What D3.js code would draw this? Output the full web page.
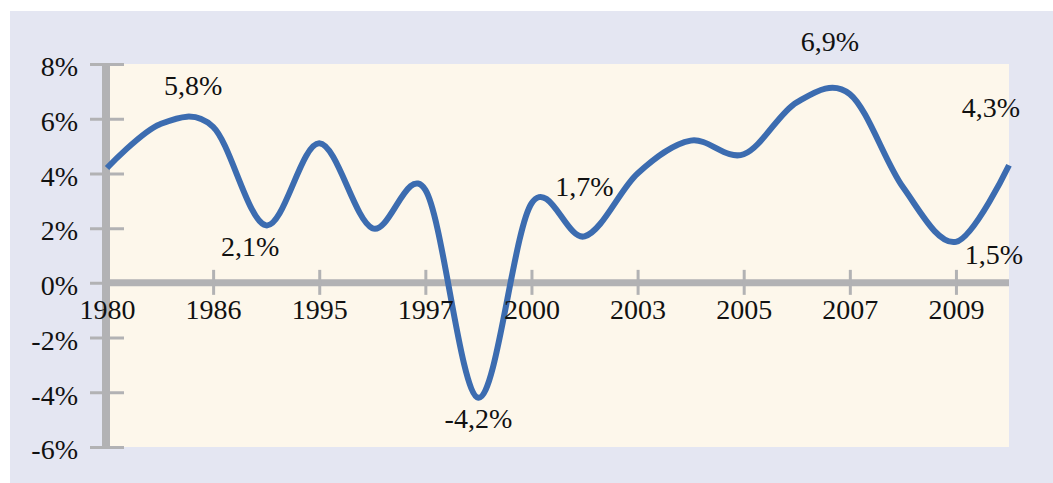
<!DOCTYPE html>
<html>
<head>
<meta charset="utf-8">
<script src="https://cdn.jsdelivr.net/npm/d3@7"></script>
<style>
  body { margin: 0; background: #ffffff; }
  svg text { font-family: "Liberation Serif", "Times New Roman", Times, serif; fill: #111; }
</style>
</head>
<body>
<svg id="chart"></svg>
<script>
/////////////// Data ///////////////
// growth values, one per half step of the category axis (18 points)
const values = [4.2, 5.8, 5.7, 2.1, 5.1, 2.0, 3.4, -4.2, 2.9, 1.7, 4.0, 5.2, 4.7, 6.6, 6.9, 3.5, 1.5, 4.3];
// category labels shown under every other point
const yearLabels = ["1980", "", "1986", "", "1995", "", "1997", "", "2000", "", "2003", "", "2005", "", "2007", "", "2009", ""];
// y tick values (percent)
const yTicks = [-6, -4, -2, 0, 2, 4, 6, 8];
// annotated points: index into values + label text
const noteIndex = [1, 3, 7, 9, 14, 17, 16];
const noteText = ["5,8%", "2,1%", "-4,2%", "1,7%", "6,9%", "4,3%", "1,5%"];

/////////////// Layout ///////////////
const width = 1053, height = 483;
const plot = { left: 107, right: 1009, top: 64, bottom: 447 };
const gray = "#b2b2b4";
const lineBlue = "#3c6cb0";
const fontStack = "'Liberation Serif', 'Times New Roman', Times, serif";
const fontSize = "28px";

const svg = d3.select("#chart")
  .attr("width", width).attr("height", height)
  .attr("font-family", fontStack);

// backgrounds
svg.append("rect").attr("x", 10).attr("y", 11).attr("width", width - 10).attr("height", height - 11).attr("fill", "#e4e6f2");
svg.append("rect")
  .attr("x", plot.left).attr("y", plot.top)
  .attr("width", plot.right - plot.left).attr("height", plot.bottom - plot.top)
  .attr("fill", "#fdf7eb");

/////////////// Scales ///////////////
const xScale = d3.scalePoint().domain(d3.range(values.length)).range([plot.left, plot.right]);
const yScale = d3.scaleLinear().domain([-6, 8]).range([plot.bottom, plot.top]);

/////////////// Y axis ///////////////
const yAxis = g => g
  .attr("transform", `translate(${plot.left - 1},0)`)
  .call(d3.axisLeft(yScale).tickValues(yTicks).tickSize(0).tickPadding(28).tickFormat(d => d + "%"))
  .attr("font-family", fontStack)
  .call(g => g.select(".domain").remove())
  .call(g => g.selectAll(".tick line").remove())
  .call(g => g.selectAll(".tick").append("line")
      .attr("x1", -16).attr("x2", 18)
      .attr("stroke", gray).attr("stroke-width", 3))
  .call(g => g.selectAll(".tick text")
      .attr("font-size", fontSize)
      .attr("dy", "0.42em")
      .attr("fill", "#111"));
svg.append("g").call(yAxis);

// thick vertical axis bar
svg.append("line")
  .attr("x1", plot.left - 1).attr("x2", plot.left - 1)
  .attr("y1", plot.top - 1).attr("y2", plot.bottom)
  .attr("stroke", gray).attr("stroke-width", 8);

/////////////// X axis (at 0%) ///////////////
const evenIdx = d3.range(values.length).filter(i => i % 2 === 0);
const xAxis = g => g
  .attr("transform", `translate(0,${yScale(0)})`)
  .call(d3.axisBottom(xScale).tickValues(evenIdx).tickSize(0).tickPadding(21).tickFormat(i => yearLabels[i]))
  .attr("font-family", fontStack)
  .call(g => g.select(".domain").remove())
  .call(g => g.selectAll(".tick").filter(i => i > 0).append("line")
      .attr("y1", -13).attr("y2", 12)
      .attr("stroke", gray).attr("stroke-width", 3))
  .call(g => g.selectAll(".tick text")
      .attr("font-size", fontSize)
      .attr("dy", "0.55em")
      .attr("fill", "#111"));
svg.append("line")
  .attr("x1", plot.left).attr("x2", plot.right)
  .attr("y1", yScale(0)).attr("y2", yScale(0))
  .attr("stroke", gray).attr("stroke-width", 7);
const xg = svg.append("g").call(xAxis);

/////////////// Line ///////////////
const line = d3.line()
  .x((d, i) => xScale(i))
  .y(d => yScale(d))
  .curve(d3.curveCardinal.tension(0));

svg.append("path")
  .datum(values)
  .attr("d", line)
  .attr("fill", "none")
  .attr("stroke", lineBlue)
  .attr("stroke-width", 6)
  .attr("stroke-linejoin", "round");

// year labels drawn over the line like in the original
xg.raise();

/////////////// Point labels ///////////////
// offsets of each label from its point (hand placed in the original)
const noteOffset = [[33, -29], [-16, 31], [0, 30], [0, -40], [-20, -43], [-18, -48], [38, 22]];
svg.append("g")
  .selectAll("text")
  .data(noteIndex)
  .join("text")
    .attr("x", (d, k) => xScale(d) + noteOffset[k][0])
    .attr("y", (d, k) => yScale(values[d]) + noteOffset[k][1])
    .attr("text-anchor", "middle")
    .attr("font-size", fontSize)
    .text((d, k) => noteText[k]);
</script>
</body>
</html>
